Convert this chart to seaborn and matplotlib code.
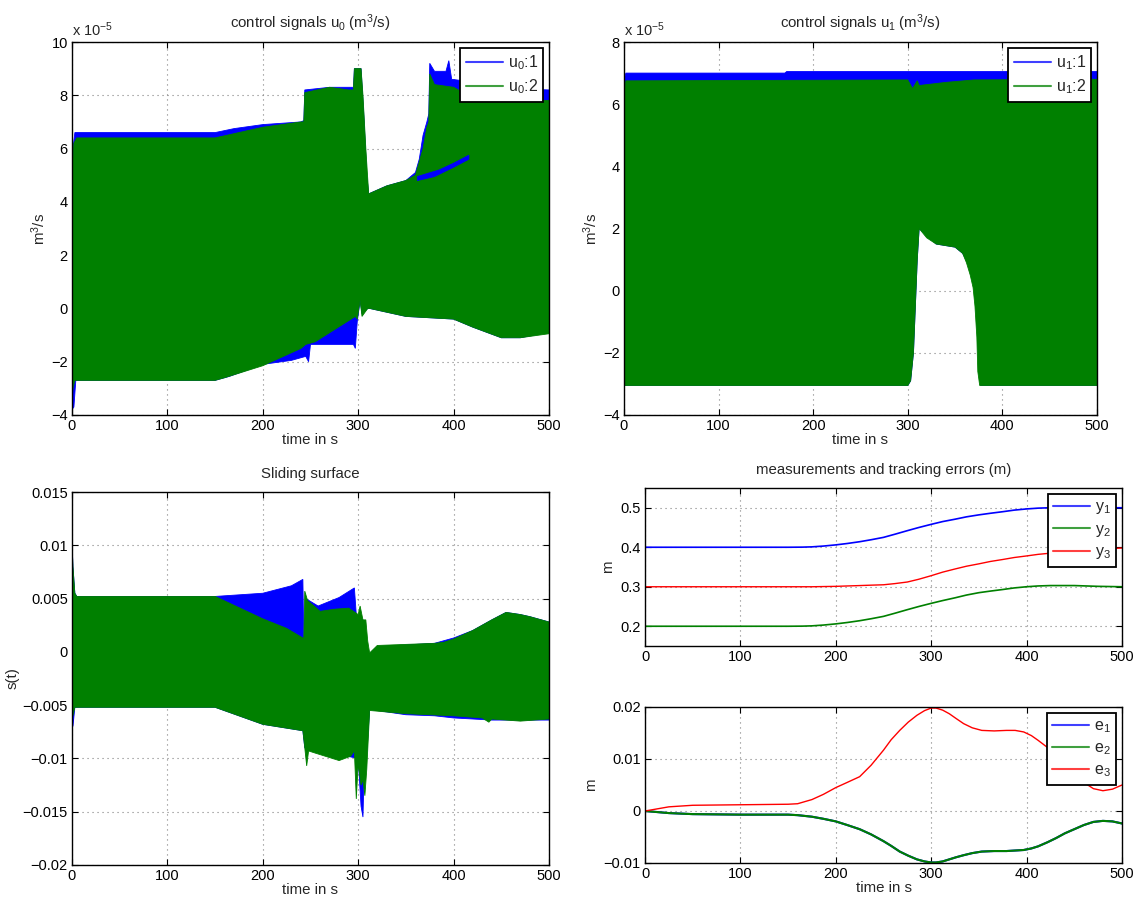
import numpy as np
import pandas as pd
import matplotlib
matplotlib.use("Agg")
import matplotlib.pyplot as plt
from matplotlib.ticker import FuncFormatter, FixedLocator
from matplotlib.lines import Line2D
import seaborn as sns

# ---------------- data ----------------
SCALE = 1e-5
TIME_TICKS = [0, 100, 200, 300, 400, 500]

# u0 panel, values in units of 1e-5 m^3/s: (time, value) envelope points
U0_1_UP_T = [0, 1, 3, 150, 170, 200, 240, 243, 244, 270, 295, 296, 303, 306, 309, 311, 330, 350, 360, 364, 368, 372, 374, 375, 380, 392, 395, 398, 420, 430, 500]
U0_1_UP_V = [4.0, 6.0, 6.6, 6.6, 6.75, 6.9, 7.0, 7.05, 8.2, 8.3, 8.3, 9.0, 9.0, 7.2, 5.0, 4.3, 4.6, 4.8, 5.1, 5.6, 6.5, 7.0, 7.3, 9.2, 8.9, 8.9, 9.3, 8.6, 8.5, 8.3, 8.2]
U0_1_LO_T = [0, 2, 4, 150, 165, 200, 230, 245, 248, 250, 295, 297, 299, 302, 304, 310, 312, 350, 400, 420, 450, 470, 500]
U0_1_LO_V = [-3.8, -3.7, -2.7, -2.7, -2.55, -2.1, -1.95, -1.8, -2.0, -1.35, -1.35, -1.5, -0.5, 0.3, -0.2, 0.0, 0.0, -0.3, -0.4, -0.7, -1.1, -1.1, -0.9]
U0_2_UP_T = [0, 2, 5, 150, 200, 240, 243, 244, 270, 290, 295, 296, 303, 305, 308, 311, 330, 350, 360, 368, 372, 374, 375, 380, 400, 420, 500]
U0_2_UP_V = [5.0, 6.2, 6.4, 6.4, 6.8, 7.0, 7.0, 8.1, 8.3, 8.2, 8.2, 9.0, 9.0, 8.0, 6.0, 4.3, 4.6, 4.8, 5.0, 6.0, 6.8, 7.0, 8.8, 8.4, 8.3, 7.9, 7.8]
U0_2_LO_T = [0, 1, 3, 150, 160, 200, 240, 245, 255, 297, 299, 302, 304, 310, 312, 350, 400, 420, 450, 470, 500]
U0_2_LO_V = [-3.4, -3.0, -2.7, -2.7, -2.6, -2.15, -1.5, -1.35, -1.25, -0.3, -0.4, 0.3, -0.3, 0.0, 0.0, -0.3, -0.4, -0.7, -1.1, -1.1, -0.95]
U0_1_SLIVER_UP_T = [362, 385, 400, 416]
U0_1_SLIVER_UP_V = [4.95, 5.2, 5.45, 5.75]
U0_1_SLIVER_LO_T = [362, 380, 400, 416]
U0_1_SLIVER_LO_V = [4.8, 4.95, 5.3, 5.6]

# u1 panel, values in units of 1e-5 m^3/s
U1_1_UP_T = [0, 2, 170, 172, 500]
U1_1_UP_V = [6.8, 7.0, 7.0, 7.05, 7.05]
U1_1_LO_T = [0, 300, 303, 306, 308, 310, 312, 330, 350, 358, 363, 367, 370, 372, 374, 375, 377, 500]
U1_1_LO_V = [-3.05, -3.05, -2.9, -2.0, -0.5, 1.0, 2.0, 1.5, 1.4, 1.2, 0.9, 0.5, 0.1, -0.5, -1.5, -2.6, -3.05, -3.05]
U1_2_UP_T = [0, 2, 300, 305, 310, 312, 340, 370, 500]
U1_2_UP_V = [6.3, 6.75, 6.78, 6.5, 6.75, 6.6, 6.7, 6.78, 6.8]
U1_2_LO_T = [0, 300, 303, 306, 308, 310, 312, 320, 330, 350, 358, 362, 366, 369, 371, 373, 374, 376, 500]
U1_2_LO_V = [-3.05, -3.05, -2.9, -2.0, -0.5, 1.0, 2.0, 1.7, 1.5, 1.4, 1.2, 0.9, 0.5, 0.1, -0.5, -1.5, -2.6, -3.05, -3.05]

# sliding surface s(t)
S_1_UP_T = [0, 1, 3, 5, 150, 200, 230, 242, 243, 245, 258, 280, 296, 298, 305, 310, 312, 320, 380, 400, 420, 440, 455, 470, 480, 500]
S_1_UP_V = [0.0105, 0.008, 0.0055, 0.0052, 0.0052, 0.0055, 0.0062, 0.0068, 0.0013, 0.005, 0.0043, 0.0051, 0.006, 0.0035, 0.003, 0.0, -0.0002, 0.0005, 0.0008, 0.0013, 0.002, 0.003, 0.0037, 0.0035, 0.0033, 0.0028]
S_1_LO_T = [0, 1, 3, 150, 200, 242, 244, 300, 303, 305, 306, 308, 312, 350, 380, 400, 440, 500]
S_1_LO_V = [-0.0035, -0.007, -0.0052, -0.0052, -0.0068, -0.0074, -0.009, -0.010, -0.0145, -0.0155, -0.012, -0.011, -0.0054, -0.0059, -0.006, -0.0062, -0.0064, -0.0064]
S_2_UP_T = [0, 1, 3, 5, 150, 200, 225, 242, 243, 244, 247, 255, 260, 275, 290, 300, 302, 305, 308, 310, 312, 320, 350, 380, 390, 400, 420, 440, 455, 470, 480, 500]
S_2_UP_V = [0.0102, 0.008, 0.0055, 0.0052, 0.0052, 0.0031, 0.0022, 0.0013, 0.0013, 0.0057, 0.0048, 0.0042, 0.0038, 0.004, 0.0041, 0.0035, 0.0043, 0.003, 0.003, 0.001, -0.0001, 0.0006, 0.0007, 0.0008, 0.0009, 0.0012, 0.002, 0.003, 0.0037, 0.0035, 0.0033, 0.0028]
S_2_LO_T = [0, 1, 3, 150, 200, 242, 244, 246, 248, 255, 280, 292, 296, 298, 300, 303, 305, 307, 309, 312, 350, 400, 430, 437, 440, 470, 500]
S_2_LO_V = [-0.004, -0.006, -0.0052, -0.0052, -0.0068, -0.0074, -0.009, -0.0107, -0.0093, -0.0095, -0.0102, -0.0098, -0.0093, -0.0138, -0.0105, -0.0125, -0.012, -0.0135, -0.011, -0.0055, -0.0058, -0.006, -0.0062, -0.0066, -0.0063, -0.0065, -0.0063]

# measurements y (m)
Y_T = [0, 50, 100, 150, 165, 175, 187, 200, 212, 225, 237, 250, 262, 275, 287, 300, 312, 325, 337, 350, 362, 375, 387, 400, 412, 425, 450, 475, 500]
Y1 = [0.400, 0.400, 0.400, 0.400, 0.4003, 0.401, 0.403, 0.406, 0.4095, 0.414, 0.419, 0.425, 0.433, 0.442, 0.450, 0.458, 0.465, 0.471, 0.477, 0.482, 0.486, 0.490, 0.494, 0.497, 0.499, 0.500, 0.501, 0.500, 0.500]
Y2 = [0.200, 0.200, 0.200, 0.200, 0.2003, 0.201, 0.203, 0.206, 0.2095, 0.214, 0.219, 0.225, 0.233, 0.242, 0.250, 0.258, 0.265, 0.272, 0.279, 0.285, 0.289, 0.293, 0.297, 0.300, 0.302, 0.303, 0.303, 0.301, 0.300]
Y3 = [0.300, 0.300, 0.300, 0.300, 0.300, 0.300, 0.3005, 0.301, 0.302, 0.303, 0.304, 0.305, 0.308, 0.312, 0.319, 0.328, 0.337, 0.345, 0.352, 0.358, 0.364, 0.369, 0.374, 0.378, 0.382, 0.385, 0.390, 0.395, 0.398]

# tracking errors e (m)
E_T = [0, 25, 50, 100, 150, 160, 175, 187, 200, 212, 225, 237, 250, 258, 267, 276, 285, 293, 300, 305, 312, 319, 326, 334, 343, 353, 366, 379, 388, 397, 405, 412, 422, 431, 440, 450, 460, 470, 480, 490, 500]
E1 = [0.0, -0.0004, -0.0006, -0.0007, -0.0007, -0.0008, -0.0011, -0.0015, -0.0020, -0.0027, -0.0035, -0.0045, -0.0058, -0.0067, -0.0078, -0.0086, -0.0093, -0.0097, -0.0099, -0.0099, -0.0097, -0.0093, -0.0089, -0.0085, -0.0081, -0.0078, -0.0077, -0.0077, -0.0076, -0.0075, -0.0072, -0.0068, -0.0060, -0.0052, -0.0043, -0.0035, -0.0027, -0.0021, -0.0019, -0.0020, -0.0024]
E2 = [0.0, -0.0004, -0.0006, -0.0007, -0.0007, -0.0008, -0.0011, -0.0015, -0.0020, -0.0027, -0.0035, -0.0045, -0.0058, -0.0067, -0.0078, -0.0086, -0.0093, -0.0097, -0.0099, -0.0099, -0.0097, -0.0093, -0.0089, -0.0085, -0.0081, -0.0078, -0.0077, -0.0077, -0.0076, -0.0075, -0.0072, -0.0068, -0.0060, -0.0052, -0.0043, -0.0035, -0.0027, -0.0021, -0.0019, -0.0020, -0.0024]
E3 = [0.0, 0.0008, 0.0011, 0.0012, 0.0013, 0.0014, 0.0022, 0.0032, 0.0045, 0.0055, 0.0066, 0.0088, 0.0117, 0.0137, 0.0155, 0.0171, 0.0184, 0.0193, 0.0198, 0.0198, 0.0194, 0.0187, 0.0178, 0.0168, 0.0160, 0.0155, 0.0154, 0.0155, 0.0155, 0.0152, 0.0145, 0.0136, 0.0122, 0.0107, 0.0090, 0.0072, 0.0055, 0.0043, 0.0039, 0.0042, 0.0050]

# ---------------- style ----------------
sns.set_theme(style="white")
plt.rcParams['font.family'] = ['Liberation Sans', 'DejaVu Sans']
plt.rcParams['mathtext.fontset'] = 'custom'
plt.rcParams['mathtext.rm'] = 'Liberation Sans'
plt.rcParams['mathtext.it'] = 'Liberation Sans:italic'
plt.rcParams['mathtext.default'] = 'regular'

BLUE = '#0000ff'
GREEN = '#008000'
RED = '#ff0000'
FS = 10
LFS = 10.8

fig = plt.figure(figsize=(11.37, 9.0), dpi=100)
W, H = 1137.0, 900.0


def add_ax(l, t, r, b):
    return fig.add_axes([l / W, 1 - b / H, (r - l) / W, (b - t) / H])


def style(ax):
    for s in ax.spines.values():
        s.set_visible(True)
        s.set_color('black')
        s.set_linewidth(1.0)
    ax.tick_params(direction='in', length=4, width=0.8, labelsize=FS + 0.5, colors='black',
                   top=True, right=True, bottom=True, left=True, pad=3)
    ax.grid(True, linestyle=(0, (1, 3.5)), color='0.5', linewidth=0.8)
    ax.set_axisbelow(True)
    ax.set_xlim(0, 500)
    ax.xaxis.set_major_locator(FixedLocator(TIME_TICKS))
    ax.xaxis.set_major_formatter(FuncFormatter(lambda v, _: f"{v:g}"))


def minus_fmt(mult=1.0):
    return FuncFormatter(lambda v, _: f"{round(v / mult, 6):g}".replace('-', '\u2212'))


def band(ax, tu, vu, tl, vl, color, k=1.0):
    xs = np.concatenate([np.asarray(tu, float), np.asarray(tl, float)[::-1]])
    ys = np.concatenate([np.asarray(vu, float), np.asarray(vl, float)[::-1]]) * k
    ax.fill(xs, ys, color=color, lw=0.6, ec=color)


def legend(ax, labels, colors):
    handles = [Line2D([0], [0], color=c, lw=1.5, alpha=0.75) for c in colors]
    lg = ax.legend(handles, labels, loc='upper right', fontsize=LFS + 0.7, frameon=True,
                   fancybox=False, edgecolor='black', framealpha=1, borderaxespad=0.35,
                   handlelength=2.3, handletextpad=0.3, labelspacing=0.35, borderpad=0.35)
    lg.get_frame().set_linewidth(1.3)
    return lg


# ---- top-left: u0 ----
ax1 = add_ax(72, 42, 549, 415)
style(ax1)
band(ax1, U0_1_UP_T, U0_1_UP_V, U0_1_LO_T, U0_1_LO_V, BLUE, SCALE)
band(ax1, U0_2_UP_T, U0_2_UP_V, U0_2_LO_T, U0_2_LO_V, GREEN, SCALE)
band(ax1, U0_1_SLIVER_UP_T, U0_1_SLIVER_UP_V, U0_1_SLIVER_LO_T, U0_1_SLIVER_LO_V, BLUE, SCALE)
ax1.set_ylim(-4 * SCALE, 10 * SCALE)
ax1.yaxis.set_major_locator(FixedLocator([v * SCALE for v in range(-4, 11, 2)]))
ax1.yaxis.set_major_formatter(minus_fmt(SCALE))
ax1.set_title('control signals u$_0$ (m$^3$/s)', fontsize=LFS, pad=10)
ax1.set_xlabel('time in s', fontsize=LFS, labelpad=0)
ax1.set_ylabel('m$^3$/s', fontsize=LFS, labelpad=2)
ax1.text(0.0, 1.008, 'x 10$^{\u22125}$', transform=ax1.transAxes, fontsize=FS + 0.5, ha='left', va='bottom')
legend(ax1, ['u$_0$:1', 'u$_0$:2'], [BLUE, GREEN])

# ---- top-right: u1 ----
ax2 = add_ax(624, 42, 1097, 415)
style(ax2)
band(ax2, U1_1_UP_T, U1_1_UP_V, U1_1_LO_T, U1_1_LO_V, BLUE, SCALE)
band(ax2, U1_2_UP_T, U1_2_UP_V, U1_2_LO_T, U1_2_LO_V, GREEN, SCALE)
ax2.set_ylim(-4 * SCALE, 8 * SCALE)
ax2.yaxis.set_major_locator(FixedLocator([v * SCALE for v in range(-4, 9, 2)]))
ax2.yaxis.set_major_formatter(minus_fmt(SCALE))
ax2.set_title('control signals u$_1$ (m$^3$/s)', fontsize=LFS, pad=10)
ax2.set_xlabel('time in s', fontsize=LFS, labelpad=0)
ax2.set_ylabel('m$^3$/s', fontsize=LFS, labelpad=2)
ax2.text(0.0, 1.008, 'x 10$^{\u22125}$', transform=ax2.transAxes, fontsize=FS + 0.5, ha='left', va='bottom')
legend(ax2, ['u$_1$:1', 'u$_1$:2'], [BLUE, GREEN])

# ---- bottom-left: sliding surface ----
ax3 = add_ax(72, 492, 549, 865)
style(ax3)
band(ax3, S_1_UP_T, S_1_UP_V, S_1_LO_T, S_1_LO_V, BLUE)
band(ax3, S_2_UP_T, S_2_UP_V, S_2_LO_T, S_2_LO_V, GREEN)
ax3.set_ylim(-0.02, 0.015)
ax3.yaxis.set_major_locator(FixedLocator([-0.02, -0.015, -0.01, -0.005, 0, 0.005, 0.01, 0.015]))
ax3.yaxis.set_major_formatter(minus_fmt())
ax3.set_title('Sliding surface', fontsize=LFS, pad=10)
ax3.set_xlabel('time in s', fontsize=LFS, labelpad=0)
ax3.set_ylabel('s(t)', fontsize=LFS, labelpad=2)

# ---- bottom-right upper: measurements ----
ax4 = add_ax(645, 488, 1122, 646)
style(ax4)
dfy = pd.DataFrame({'t': Y_T, 'y1': Y1, 'y2': Y2, 'y3': Y3})
sns.lineplot(data=dfy, x='t', y='y1', color=BLUE, lw=1.2, ax=ax4)
sns.lineplot(data=dfy, x='t', y='y2', color=GREEN, lw=1.2, ax=ax4)
sns.lineplot(data=dfy, x='t', y='y3', color=RED, lw=1.0, ax=ax4)
ax4.set_ylim(0.15, 0.55)
ax4.yaxis.set_major_locator(FixedLocator([0.2, 0.3, 0.4, 0.5]))
ax4.yaxis.set_major_formatter(minus_fmt())
ax4.set_title('measurements and tracking errors (m)', fontsize=LFS, pad=10)
ax4.set_xlabel('')
ax4.set_ylabel('m', fontsize=LFS, labelpad=4)
legend(ax4, ['y$_1$', 'y$_2$', 'y$_3$'], [BLUE, GREEN, RED])

# ---- bottom-right lower: tracking errors ----
ax5 = add_ax(645, 707, 1122, 863)
style(ax5)
dfe = pd.DataFrame({'t': E_T, 'e1': E1, 'e2': E2, 'e3': E3})
sns.lineplot(data=dfe, x='t', y='e1', color=BLUE, lw=1.5, ax=ax5)
sns.lineplot(data=dfe, x='t', y='e2', color=GREEN, lw=1.5, ax=ax5)
sns.lineplot(data=dfe, x='t', y='e3', color=RED, lw=1.0, ax=ax5)
ax5.set_ylim(-0.01, 0.02)
ax5.yaxis.set_major_locator(FixedLocator([-0.01, 0, 0.01, 0.02]))
ax5.yaxis.set_major_formatter(minus_fmt())
ax5.set_xlabel('time in s', fontsize=LFS, labelpad=0)
ax5.set_ylabel('m', fontsize=LFS, labelpad=4)
legend(ax5, ['e$_1$', 'e$_2$', 'e$_3$'], [BLUE, GREEN, RED])

fig.savefig('out.png', dpi=100, facecolor='white')
